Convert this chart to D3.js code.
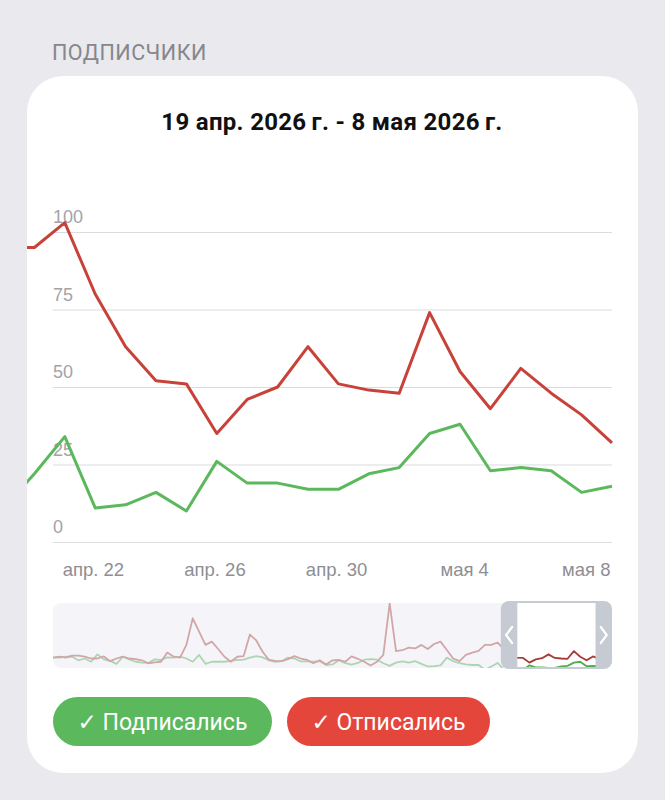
<!DOCTYPE html>
<html>
<head>
<meta charset="utf-8">
<script src="https://cdn.jsdelivr.net/npm/d3@7"></script>
<style>
    body { margin: 0; background: #e9e9ee; }
    svg { display: block; font-family: Roboto, "DejaVu Sans", sans-serif; }
</style>
</head>
<body>
<svg class="chart" width="665" height="800"></svg>
<script>
// Daily values, 18 апр - 8 мая 2026 (main chart, 18 апр is only half visible)
var mainStart = new Date(2026, 3, 18);
var unsubscribed = [95, 95, 103, 80, 63, 52, 51, 35, 46, 50, 63, 51, 49, 48, 74, 55, 43, 56, 48, 41, 32];
var subscribed   = [11, 22, 34, 11, 12, 16, 10, 26, 19, 19, 17, 17, 22, 24, 35, 38, 23, 24, 23, 16, 18];

// Older history for the navigator, 9 фев - 17 апр 2026
var historyStart = new Date(2026, 1, 9);
var historyUnsub = [52, 55, 52, 59, 59, 55, 49, 49, 56, 40, 49, 55, 49, 47, 43, 33, 36, 38, 69, 55,
                    52, 95, 185, 140, 95, 106, 81, 55, 38, 55, 57, 130, 110, 72, 44, 41, 40, 47, 57, 49,
                    44, 33, 43, 29, 43, 44, 38, 56, 48, 38, 25, 38, 61, 235, 74, 77, 86, 83, 95, 81,
                    98, 106, 78, 49, 40, 61, 69, 75];
var historySub   = [52, 52, 55, 55, 43, 49, 38, 63, 46, 41, 31, 55, 46, 38, 35, 34, 46, 44, 53, 52,
                    55, 49, 38, 61, 31, 38, 38, 38, 41, 44, 45, 52, 57, 53, 43, 38, 40, 52, 49, 39,
                    39, 38, 40, 27, 29, 43, 33, 28, 34, 45, 47, 45, 33, 24, 35, 39, 35, 40, 31, 22,
                    23, 26, 52, 40, 33, 29, 27, 27];

var yTicks = [0, 25, 50, 75, 100];
var xTickDates = [new Date(2026, 3, 22), new Date(2026, 3, 26), new Date(2026, 3, 30), new Date(2026, 4, 4), new Date(2026, 4, 8)];
var xTickLabels = ["апр. 22", "апр. 26", "апр. 30", "мая 4", "мая 8"];
var seriesNames = ["Подписались", "Отписались"];

var RED = "#c8423a", GREEN = "#5cb85c";

var svg = d3.select(".chart");

// Turn arrays into {date, value}
function toPoints(start, values) {
    return values.map(function(v, i) { return {date: d3.timeDay.offset(start, i), value: v}; });
}
var mainRed = toPoints(mainStart, unsubscribed),
    mainGreen = toPoints(mainStart, subscribed);
var navRed = toPoints(historyStart, historyUnsub.concat(unsubscribed)),
    navGreen = toPoints(historyStart, historySub.concat(subscribed));

// Section header
svg.append("text")
    .attr("x", 52).attr("y", 59.5)
    .attr("font-size", 21.5).attr("letter-spacing", 0.5).attr("fill", "#86868b")
    .text("ПОДПИСЧИКИ");

// Card
svg.append("rect")
    .attr("x", 27).attr("y", 76)
    .attr("width", 611).attr("height", 697)
    .attr("rx", 36)
    .attr("fill", "#fff");

// Title
svg.append("text")
    .attr("x", 332).attr("y", 129.5)
    .attr("text-anchor", "middle")
    .attr("font-size", 24).attr("font-weight", "bold").attr("letter-spacing", 0.3).attr("fill", "#111")
    .text("19 апр. 2026\u2009г. - 8 мая 2026\u2009г.");

// Main chart scales
var x = d3.scaleTime().domain([new Date(2026, 3, 19), new Date(2026, 4, 8)]).range([34.4, 612]),
    y = d3.scaleLinear().domain([0, 100]).range([542, 232]);

// Y grid + labels
var yAxis = svg.append("g")
    .attr("transform", "translate(53,0)")
    .call(d3.axisRight(y).tickValues(yTicks).tickSize(559));
yAxis.select(".domain").remove();
yAxis.selectAll("line").attr("stroke", "#dcdce0").attr("stroke-width", 1.2);
yAxis.selectAll("text")
    .attr("x", 0).attr("y", -9.5).attr("dy", null)
    .attr("text-anchor", "start")
    .attr("font-size", 18).attr("font-family", null)
    .attr("fill", "#a3a3a8");

// X labels
var xAxis = svg.append("g")
    .attr("transform", "translate(0,575.5)")
    .call(d3.axisBottom(x).tickValues(xTickDates).tickSize(0).tickPadding(0)
        .tickFormat(function(d, i) { return xTickLabels[i]; }));
xAxis.select(".domain").remove();
xAxis.selectAll("text")
    .attr("y", 0).attr("dy", null).attr("dx", -2)
    .attr("text-anchor", "end")
    .attr("font-size", 18.5).attr("font-family", null)
    .attr("fill", "#8e8e93");

// Lines, clipped to the card
svg.append("clipPath").attr("id", "main-clip")
    .append("rect").attr("x", 27).attr("y", 150).attr("width", 588).attr("height", 410);

var line = d3.line()
    .x(function(d) { return x(d.date); })
    .y(function(d) { return y(d.value); });

var lines = svg.append("g").attr("clip-path", "url(#main-clip)");
lines.append("path").datum(mainGreen)
    .attr("d", line).attr("fill", "none")
    .attr("stroke", GREEN).attr("stroke-width", 3).attr("stroke-linejoin", "round");
lines.append("path").datum(mainRed)
    .attr("d", line).attr("fill", "none")
    .attr("stroke", RED).attr("stroke-width", 3).attr("stroke-linejoin", "round");

// Navigator
var navX = d3.scaleTime().domain([historyStart, new Date(2026, 4, 8)]).range([53, 612]),
    navY = d3.scaleLinear().domain([0, 240]).range([673, 602]);

var nav = svg.append("g");
nav.append("rect")
    .attr("x", 53).attr("y", 603).attr("width", 559).attr("height", 65)
    .attr("rx", 8).attr("fill", "#fff");

svg.append("clipPath").attr("id", "nav-clip")
    .append("rect").attr("x", 53).attr("y", 603).attr("width", 559).attr("height", 65).attr("rx", 8);

var navLine = d3.line()
    .x(function(d) { return navX(d.date); })
    .y(function(d) { return navY(d.value); });

var navLines = nav.append("g").attr("clip-path", "url(#nav-clip)");
navLines.append("path").datum(navGreen)
    .attr("d", navLine).attr("fill", "none")
    .attr("stroke", "#4fae4f").attr("stroke-width", 1.8).attr("stroke-linejoin", "round");
navLines.append("path").datum(navRed)
    .attr("d", navLine).attr("fill", "none")
    .attr("stroke", "#a63a36").attr("stroke-width", 1.8).attr("stroke-linejoin", "round");

// Selected window
var winX0 = navX(new Date(2026, 3, 20, 12)),
    winX1 = navX(new Date(2026, 4, 8)),
    barW = 16.5, frame = 2, winTop = 601, winBottom = 669;

// Dim area outside the window
navLines.append("rect")
    .attr("x", 53).attr("y", 603).attr("width", winX0 - 53 + 4).attr("height", 65)
    .attr("fill", "#efeff5").attr("opacity", 0.6);

// Handle frame (outer rounded rect minus inner)
var outer = d3.path();
var r = 8;
outer.moveTo(winX0 + r, winTop);
outer.lineTo(winX1 - r, winTop);
outer.arcTo(winX1, winTop, winX1, winTop + r, r);
outer.lineTo(winX1, winBottom - r);
outer.arcTo(winX1, winBottom, winX1 - r, winBottom, r);
outer.lineTo(winX0 + r, winBottom);
outer.arcTo(winX0, winBottom, winX0, winBottom - r, r);
outer.lineTo(winX0, winTop + r);
outer.arcTo(winX0, winTop, winX0 + r, winTop, r);
outer.closePath();
outer.rect(winX0 + barW, winTop + frame, winX1 - winX0 - 2 * barW, winBottom - winTop - 2 * frame);

nav.append("path")
    .attr("d", outer.toString())
    .attr("fill", "#c6cbd3")
    .attr("fill-rule", "evenodd");

// Chevrons
var midY = (winTop + winBottom) / 2;
nav.append("path")
    .attr("d", "M" + (winX0 + barW / 2 + 3) + "," + (midY - 8) + " L" + (winX0 + barW / 2 - 3) + "," + midY +
               " L" + (winX0 + barW / 2 + 3) + "," + (midY + 8))
    .attr("fill", "none").attr("stroke", "#fff").attr("stroke-width", 2.2).attr("stroke-linecap", "round");
nav.append("path")
    .attr("d", "M" + (winX1 - barW / 2 - 3) + "," + (midY - 8) + " L" + (winX1 - barW / 2 + 3) + "," + midY +
               " L" + (winX1 - barW / 2 - 3) + "," + (midY + 8))
    .attr("fill", "none").attr("stroke", "#fff").attr("stroke-width", 2.2).attr("stroke-linecap", "round");

// Legend buttons
var buttons = [
    {name: seriesNames[0], color: "#5cb85c", x: 53, w: 219},
    {name: seriesNames[1], color: "#e5463b", x: 287, w: 203}
];
var btn = svg.selectAll(".btn")
    .data(buttons)
    .enter()
        .append("g")
        .attr("class", "btn")
        .attr("transform", function(d) { return "translate(" + d.x + ",697)"; });
btn.append("rect")
    .attr("width", function(d) { return d.w; })
    .attr("height", 49)
    .attr("rx", 24.5)
    .attr("fill", function(d) { return d.color; });
btn.append("text")
    .attr("x", function(d) { return d.w / 2; })
    .attr("y", 33)
    .attr("text-anchor", "middle")
    .attr("font-size", 23).attr("fill", "#fff")
    .text(function(d) { return "\u2713 " + d.name; });
</script>
</body>
</html>
